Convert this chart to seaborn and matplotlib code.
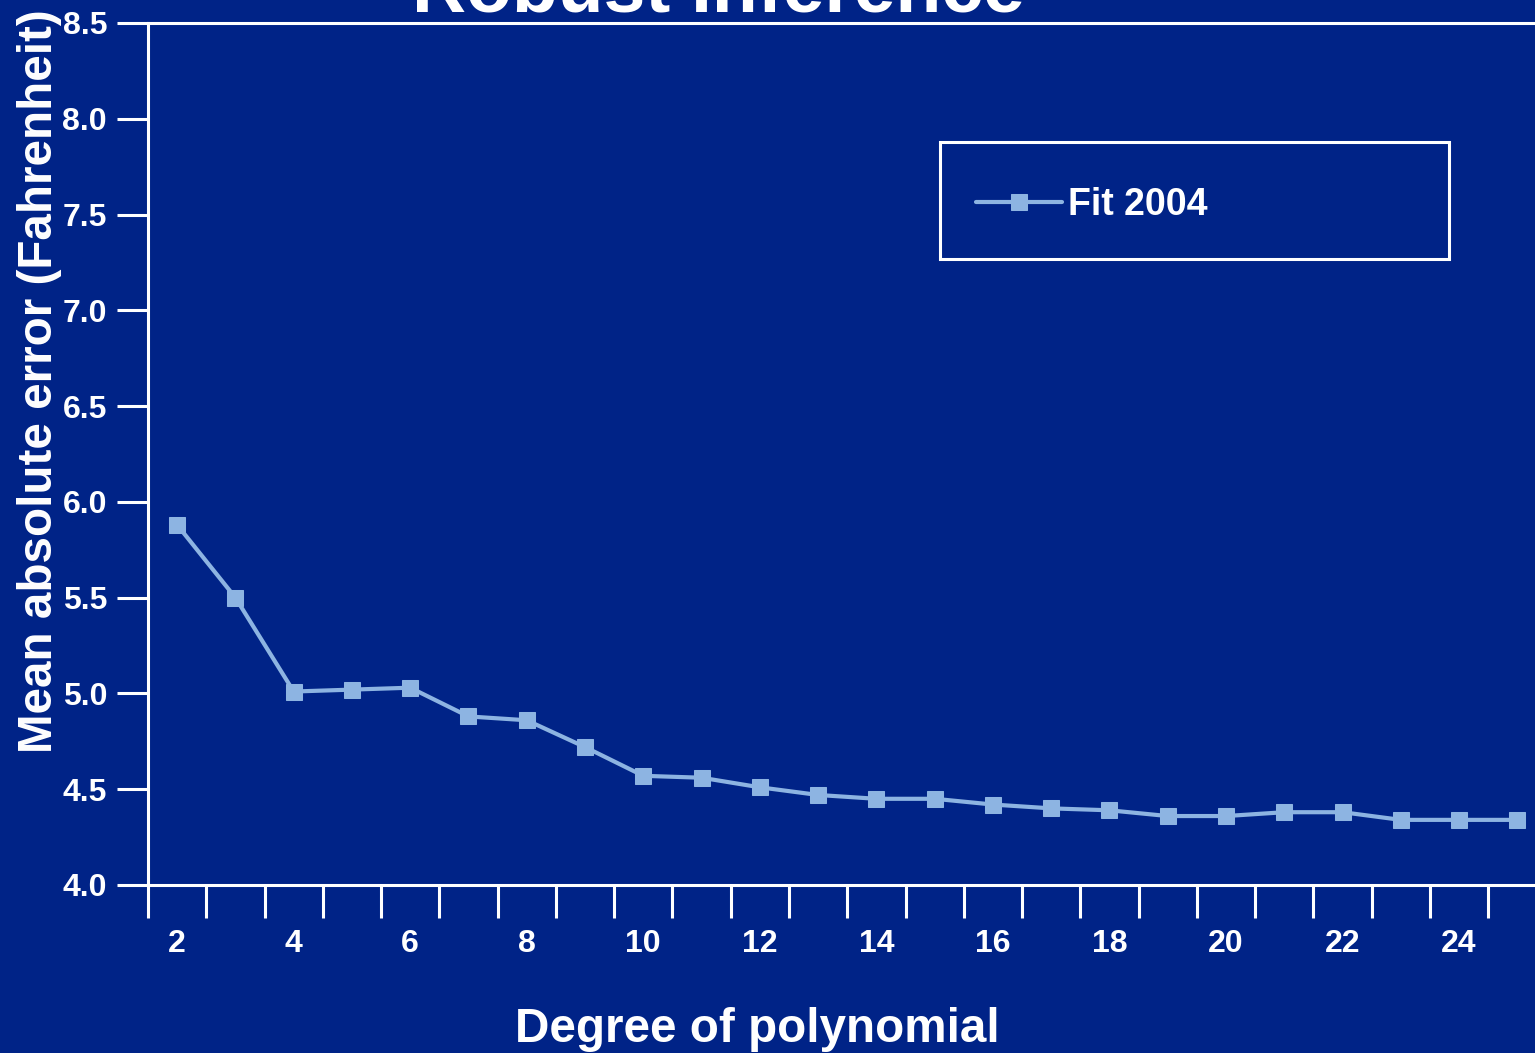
import matplotlib
matplotlib.use("Agg")
import matplotlib.pyplot as plt
from matplotlib.patches import Rectangle
from matplotlib.ticker import FixedLocator
import pandas as pd
import seaborn as sns

# Mean absolute error of the 2004 fit for each polynomial degree
degrees = list(range(2, 26))
mean_abs_error = [5.88, 5.50, 5.01, 5.02, 5.03, 4.88, 4.86, 4.72, 4.57, 4.56,
                  4.51, 4.47, 4.45, 4.45, 4.42, 4.40, 4.39, 4.36, 4.36, 4.38,
                  4.38, 4.34, 4.34, 4.34]
series_name = "Fit 2004"
x_label_degrees = list(range(2, 25, 2))
y_tick_values = [4.0, 4.5, 5.0, 5.5, 6.0, 6.5, 7.0, 7.5, 8.0, 8.5]

title = "Robust Inference"
x_title = "Degree of polynomial"
y_title = "Mean absolute error (Fahrenheit)"

BG = "#002387"
LINE = "#8db4e2"
FG = "white"
W, H = 1535, 1053

sns.set_theme(style="ticks")
plt.rcParams["font.family"] = ["Liberation Sans", "DejaVu Sans"]
plt.rcParams["axes.facecolor"] = BG
plt.rcParams["figure.facecolor"] = BG
plt.rcParams["axes.edgecolor"] = FG

df = pd.DataFrame({"degree": degrees, "error": mean_abs_error})

fig = plt.figure(figsize=(W / 100, H / 100), dpi=100)
# the plotting area runs a little past the right edge of the figure
ax = fig.add_axes([148 / W, 168 / H, 1398.5 / W, 862 / H])

sns.lineplot(data=df, x="degree", y="error", ax=ax, color=LINE,
             linewidth=3.0, marker="s", markersize=12,
             markerfacecolor=LINE, markeredgecolor=LINE, label=series_name)

ax.set_xlim(degrees[0] - 0.5, degrees[-1] + 0.5)
ax.set_ylim(y_tick_values[0], y_tick_values[-1])

# x axis: category-style ticks at the boundaries, labels at even degrees
ax.xaxis.set_major_locator(FixedLocator(x_label_degrees))
ax.set_xticklabels([str(d) for d in x_label_degrees], weight="bold")
ax.xaxis.set_minor_locator(FixedLocator([d - 0.5 for d in degrees] + [degrees[-1] + 0.5]))
ax.tick_params(axis="x", which="major", length=0, pad=32, labelsize=23,
               labelcolor=FG)
ax.tick_params(axis="x", which="minor", length=24, width=2.2, color=FG,
               direction="out", bottom=True)

ax.set_yticks(y_tick_values)
ax.set_yticklabels([f"{v:.1f}" for v in y_tick_values], weight="bold")
ax.tick_params(axis="y", which="major", length=22.5, width=2.2, color=FG,
               direction="out", pad=7, labelsize=23, labelcolor=FG)

for side in ["left", "bottom", "top", "right"]:
    ax.spines[side].set_visible(True)
    ax.spines[side].set_color(FG)
    ax.spines[side].set_linewidth(2.2)

ax.set_xlabel(x_title, fontsize=34.3, weight="bold", color=FG)
ax.xaxis.label.set_va("baseline")
ax.xaxis.set_label_coords(757 / W, 1 - 1042 / H, transform=fig.transFigure)

ax.set_ylabel(y_title, fontsize=34.3, weight="bold", color=FG)
ax.yaxis.label.set_va("baseline")
ax.yaxis.set_label_coords(52 / W, 1 - 381 / H, transform=fig.transFigure)

fig.suptitle(title, x=718 / W, y=1 - 12 / H, ha="center", va="baseline",
             fontsize=54, weight="bold", color=FG)

# legend with a fixed white box around it
ax.legend(loc="center left", bbox_to_anchor=(976 / W, 1 - 205 / H),
          bbox_transform=fig.transFigure, frameon=False, borderpad=0,
          borderaxespad=0, handlelength=2.3, handletextpad=0.15,
          prop={"weight": "bold", "size": 27}, labelcolor=FG)
fig.add_artist(Rectangle((940 / W, 1 - 259 / H), (1449 - 940) / W,
                         (259 - 142) / H, transform=fig.transFigure,
                         fill=False, edgecolor=FG, linewidth=2.2))

fig.savefig("out.png", dpi=100, facecolor=BG)
